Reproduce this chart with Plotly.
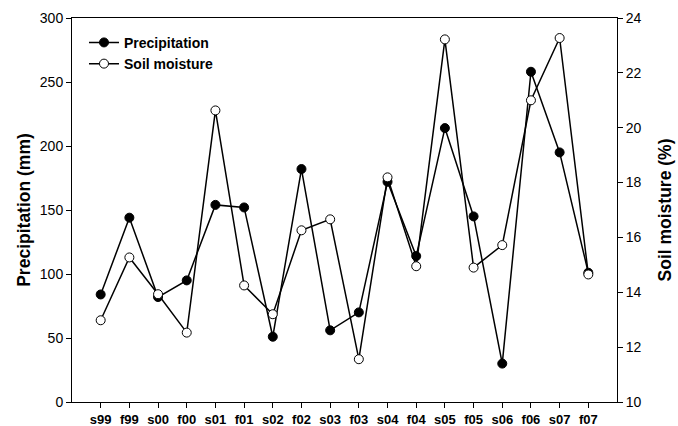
import plotly.graph_objects as go

categories = ["s99", "f99", "s00", "f00", "s01", "f01", "s02", "f02", "s03",
              "f03", "s04", "f04", "s05", "f05", "s06", "f06", "s07", "f07"]
precipitation = [84, 144, 82, 95, 154, 152, 51, 182, 56, 70, 172, 114, 214, 145, 30, 258, 195, 101]
soil_moisture = [12.98, 15.27, 13.93, 12.53, 20.63, 14.25, 13.2, 16.26, 16.66, 11.56,
                 18.19, 14.95, 23.22, 14.9, 15.72, 21.0, 23.27, 14.65]
y1_ticks = [0, 50, 100, 150, 200, 250, 300]
y2_ticks = [10, 12, 14, 16, 18, 20, 22, 24]

font = "Liberation Sans, Arial, sans-serif"

fig = go.Figure()
fig.add_trace(go.Scatter(
    x=categories, y=precipitation, name="<b>Precipitation</b>", mode="lines+markers",
    line=dict(color="black", width=1.5),
    marker=dict(symbol="circle", size=9, color="black", line=dict(color="black", width=1)),
    yaxis="y"))
fig.add_trace(go.Scatter(
    x=categories, y=soil_moisture, name="<b>Soil moisture</b>", mode="lines+markers",
    line=dict(color="black", width=1.5),
    marker=dict(symbol="circle", size=9, color="white", line=dict(color="black", width=1)),
    yaxis="y2"))

xtickfont = dict(family=font, size=13, color="black")
ytickfont = dict(family=font, size=14, color="black")
titlefont = dict(family=font, size=17.5, color="black")

fig.update_layout(
    width=678, height=426,
    margin=dict(l=72, r=61, t=18, b=24),
    paper_bgcolor="white", plot_bgcolor="white",
    font=dict(family=font, color="black"),
    showlegend=True,
    legend=dict(x=0.022, y=0.977, xanchor="left", yanchor="top",
                font=dict(family=font, size=14, color="black"),
                bgcolor="rgba(0,0,0,0)", tracegroupgap=0, itemwidth=30),
    xaxis=dict(type="category", range=[-1, 18], showline=True, linecolor="black",
               linewidth=1, mirror=True, ticks="outside", ticklen=5, tickcolor="black",
               showgrid=False, zeroline=False, automargin=False,
               tickfont=xtickfont, tickprefix="<b>", ticksuffix="</b>"),
    yaxis=dict(range=[0, 300], tickvals=y1_ticks,
               showline=True, linecolor="black", linewidth=1, ticks="outside",
               ticklen=5, tickcolor="black", showgrid=False, zeroline=False,
               automargin=False, tickfont=ytickfont, tickprefix="<b>", ticksuffix="</b>",
               title=dict(text="<b>Precipitation (mm)</b>", font=titlefont, standoff=4)),
    yaxis2=dict(range=[10, 24], tickvals=y2_ticks,
                overlaying="y", side="right",
                showline=True, linecolor="black", linewidth=1, ticks="outside",
                ticklen=5, tickcolor="black", showgrid=False, zeroline=False,
                automargin=False, tickfont=ytickfont, tickprefix="<b>", ticksuffix="</b>",
                title=dict(text="<b>Soil moisture (%)</b>", font=titlefont, standoff=18)),
)

fig.write_html(
    "out.html",
    config={"displayModeBar": False},
    post_script="document.body.style.margin='0';document.body.style.overflow='hidden';",
)
